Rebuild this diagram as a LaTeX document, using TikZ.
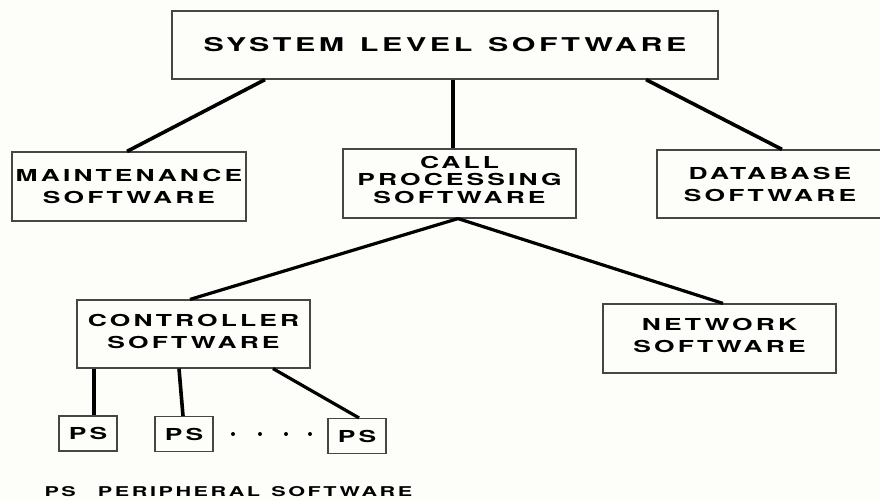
\documentclass[tikz,border=0pt]{standalone}
\usepackage{fontspec}
\newfontfamily\boxfont{TeX Gyre Heros}[FakeStretch=1.6, BoldFeatures={FakeStretch=1.6}, LetterSpace=19, WordSpace=1.3]
\definecolor{paper}{RGB}{253,253,250}
\definecolor{edge}{RGB}{70,70,70}

\begin{document}
\begin{tikzpicture}[x=1pt, y=-1pt,
  swbox/.style={draw=edge, line width=1.2pt, inner sep=0pt, align=center,
    minimum width=233pt, minimum height=68pt,
    font=\boxfont\bfseries\fontsize{16.5}{22}\selectfont},
  psbox/.style={swbox, minimum width=58pt, minimum height=35pt},
  conn/.style={line width=3.6pt, line cap=butt}]
\fill[paper] (0,0) rectangle (880,501);
\useasboundingbox (0,0) rectangle (880,501);
\node[swbox, minimum width=546pt, font=\boxfont\bfseries\fontsize{19}{22}\selectfont] (sys) at (445,45) {SYSTEM LEVEL SOFTWARE};
\node[swbox, minimum width=234pt, minimum height=69pt] (maint) at (129,186.5) {MAINTENANCE\\SOFTWARE};
\node[swbox, minimum height=69pt, text depth=8pt, font=\boxfont\bfseries\fontsize{16.5}{17.5}\selectfont] (call) at (459.5,183.5) {CALL\\PROCESSING\\SOFTWARE};
\node[swbox, minimum width=226pt] (db) at (770,184) {DATABASE\\SOFTWARE};
\node[swbox, text depth=6pt] (ctrl) at (193.5,334) {CONTROLLER\\SOFTWARE};
\node[swbox, minimum height=69pt, text depth=6pt] (net) at (719.5,338.5) {NETWORK\\SOFTWARE};
\node[psbox] (ps1) at (88,433.5) {PS};
\node[psbox] (ps2) at (184,434) {PS};
\node[psbox] (ps3) at (357,436) {PS};
\foreach \x in {233,260,286,310}
  \fill (\x,434) circle (2);
\node[anchor=west, font=\boxfont\bfseries\fontsize{13.5}{15}\selectfont] (legend) at (41,492) {PS\hspace{22pt}PERIPHERAL SOFTWARE};
\draw[conn] ([xshift=-180pt]sys.south) -- ([xshift=-2pt]maint.north);
\draw[conn] ([xshift=8pt]sys.south) -- ([xshift=-6.5pt]call.north);
\draw[conn] ([xshift=201pt]sys.south) -- ([xshift=12pt]db.north);
\draw[conn, line width=3.2pt] ([xshift=-1.5pt]call.south) -- ([xshift=-3.5pt]ctrl.north);
\draw[conn, line width=3.2pt] ([xshift=-1.5pt]call.south) -- ([xshift=3.5pt]net.north);
\draw[conn] ([xshift=-99.5pt]ctrl.south) -- ([xshift=6pt]ps1.north);
\draw[conn] ([xshift=-14.5pt]ctrl.south) -- ([xshift=-1pt]ps2.north);
\draw[conn, line width=3.2pt] ([xshift=79.5pt]ctrl.south) -- ([xshift=2pt]ps3.north);
\end{tikzpicture}
\end{document}
